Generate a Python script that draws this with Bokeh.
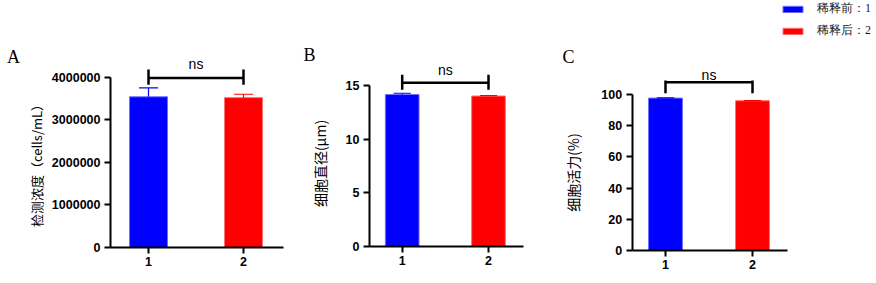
import math
from bokeh.plotting import figure
from bokeh.layouts import row
from bokeh.models import (ColumnDataSource, FixedTicker, Label, Legend, LegendItem,
                          Range1d, BasicTickFormatter)
from bokeh.embed import file_html
from bokeh.resources import INLINE

# ---------------- data ----------------
groups = [1, 2]
colors = ["#0000ff", "#ff0000"]
edge_colors = ["#7070ff", "#ff7070"]
legend_labels = ["稀释前：1", "稀释后：2"]

conc_mean = [3540000, 3520000]
conc_err = [210000, 80000]
diam_mean = [14.16, 14.02]
diam_err = [0.12, 0.05]
viab_mean = [97.7, 96.0]
viab_err = [0.15, 0.15]

conc_ticks = [0, 1000000, 2000000, 3000000, 4000000]
diam_ticks = [0, 5, 10, 15]
viab_ticks = [0, 20, 40, 60, 80, 100]

sig_text = "ns"
# significance bracket: [line y, tip low, tip high, text y]
conc_sig = [3980000, 3820000, 4180000, 4300000]
diam_sig = [15.25, 14.6, 16.0, 16.4]
viab_sig = [107.9, 100.8, 109.0, 112.5]

TICK_FONT = "Liberation Sans"
CJK_FONT = "Noto Sans CJK SC"
SERIF = "Liberation Serif"
H = 283


def span(v0, p0, v1, p1, size):
    """range (start, end) so that value v0 sits at pixel p0 and v1 at p1 (pixels from start edge)"""
    s = (p1 - p0) / (v1 - v0)
    start = v0 - p0 / s
    return start, start + size / s


def panel(width, xpix, ypix, xaxis_span, ytop, ticks, means, errs,
          ylabel, ylabel_size, ylabel_xy, sig, letter, letter_xy, bar_w, cap_w):
    xr = span(groups[0], xpix[0], groups[1], xpix[1], width)
    yr = span(0, H - ypix[0], ytop, H - ypix[1], H)
    p = figure(width=width, height=H, output_backend="svg", toolbar_location=None,
               x_range=Range1d(*xr), y_range=Range1d(*yr),
               min_border=0, min_border_left=0, min_border_right=0,
               min_border_top=0, min_border_bottom=0, outline_line_color=None,
               background_fill_color="white", border_fill_color="white")
    p.grid.visible = False

    src = ColumnDataSource(dict(x=groups, top=means, err=errs,
                                hi=[m + e for m, e in zip(means, errs)],
                                cl=[g - cap_w / 2 for g in groups],
                                cr=[g + cap_w / 2 for g in groups],
                                fill=colors, edge=edge_colors))
    bars = p.vbar(x="x", top="top", bottom=0, width=bar_w, source=src,
                  fill_color="fill", line_color="edge", line_width=1)
    p.segment(x0="x", y0="top", x1="x", y1="hi", source=src, line_color="fill", line_width=1.2)
    p.segment(x0="cl", y0="hi", x1="cr", y1="hi", source=src, line_color="fill", line_width=1.2)

    # significance bracket
    p.segment(x0=[groups[0]], y0=[sig[0]], x1=[groups[1]], y1=[sig[0]],
              line_color="black", line_width=2.5)
    p.segment(x0=groups, y0=[sig[1]] * 2, x1=groups, y1=[sig[2]] * 2,
              line_color="black", line_width=2.5)
    p.add_layout(Label(x=(groups[0] + groups[1]) / 2, y=sig[3], text=sig_text,
                       text_align="center", text_baseline="middle",
                       text_font=TICK_FONT, text_font_size="14px", text_color="black"))

    # panel letter
    p.add_layout(Label(x=letter_xy[0], y=H - letter_xy[1], x_units="screen", y_units="screen",
                       text=letter, text_font=SERIF, text_font_size="18px",
                       text_align="center", text_baseline="middle", text_color="black"))
    # y axis title
    p.add_layout(Label(x=ylabel_xy[0], y=H - ylabel_xy[1], x_units="screen", y_units="screen",
                       text=ylabel, text_font=CJK_FONT, text_font_size=ylabel_size,
                       angle=math.pi / 2, text_align="center", text_baseline="middle",
                       text_color="black"))

    # axes
    for ax in (p.xaxis[0], p.yaxis[0]):
        ax.axis_line_width = 2
        ax.axis_line_color = "black"
        ax.major_tick_line_width = 2
        ax.major_tick_line_color = "black"
        ax.major_tick_in = 0
        ax.major_tick_out = 6
        ax.minor_tick_line_color = None
        ax.major_label_text_font = TICK_FONT
        ax.major_label_text_font_style = "bold"
        ax.major_label_text_font_size = "12.5px"
        ax.major_label_text_color = "black"
    p.xaxis.ticker = FixedTicker(ticks=groups)
    p.xaxis.bounds = xaxis_span
    p.xaxis.fixed_location = 0
    p.xaxis.major_label_standoff = 3
    p.yaxis.ticker = FixedTicker(ticks=ticks)
    p.yaxis.bounds = (0, ytop)
    p.yaxis.fixed_location = xaxis_span[0]
    p.yaxis.major_label_standoff = 4
    p.yaxis.formatter = BasicTickFormatter(use_scientific=False)
    return p, bars


pA, _ = panel(290, (148, 243), (247, 76.7), (0.6, 2.421), 4000000,
              conc_ticks, conc_mean, conc_err, "检测浓度（cells/mL）", "13px", (36, 162),
              conc_sig, "A", (13, 56), 0.4, 0.2)
pB, _ = panel(260, (111.7, 198), (246, 85), (0.621, 2.405), 15,
              diam_ticks, diam_mean, diam_err, "细胞直径(μm)", "14px", (29, 163),
              diam_sig, "B", (19, 54), 0.39, 0.2)
pC, barsC = panel(326, (115, 202), (250, 94), (0.617, 2.402), 100,
                  viab_ticks, viab_mean, viab_err, "细胞活力(%)", "14px", (22, 172),
                  viab_sig, "C", (18, 56), 0.39, 0.2)

legend = Legend(items=[LegendItem(label=legend_labels[i], renderers=[barsC], index=i)
                       for i in range(2)],
                location=(230, 244), orientation="vertical",
                glyph_width=25, glyph_height=8, label_height=14, spacing=5,
                label_standoff=12, padding=0, margin=0,
                label_text_font=SERIF, label_text_font_size="12px",
                label_text_color="#222222",
                border_line_color=None, background_fill_alpha=0)
pC.add_layout(legend, "center")

layout = row(pA, pB, pC)
open("out.html", "w").write(file_html(layout, INLINE))
